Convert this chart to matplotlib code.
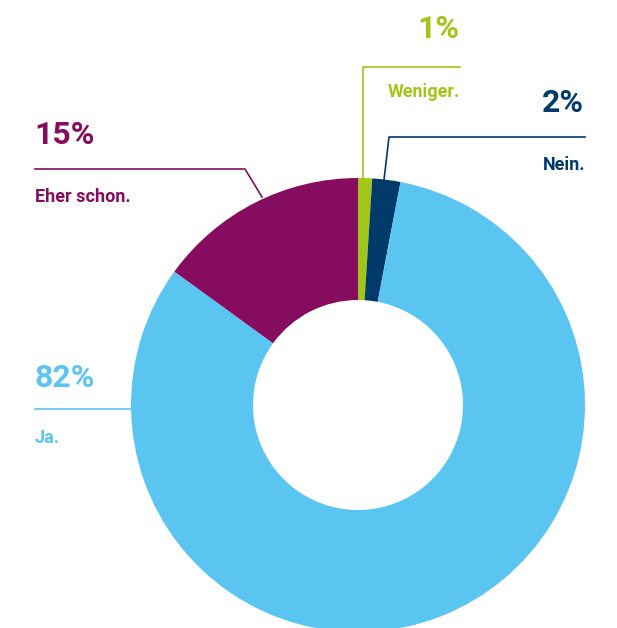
import matplotlib.pyplot as plt

# Daten
kategorien = ['Weniger.', 'Nein.', 'Ja.', 'Eher schon.']
werte = [1, 2, 82, 15]
farben = ['#a2c617', '#003a6b', '#5bc5f2', '#850c5e']

W, H = 617, 628

def y(p):
    # Pixel von oben -> Datenkoordinate
    return H - p

fig = plt.figure(figsize=(W / 100, H / 100), dpi=100)
ax = fig.add_axes([0, 0, 1, 1])

ax.pie(werte, colors=farben, startangle=90, counterclock=False,
       center=(358, y(405)), radius=227,
       wedgeprops=dict(width=122, linewidth=0))

ax.set_xlim(0, W)
ax.set_ylim(0, H)
ax.set_aspect('equal')
ax.axis('off')

fam = ['Roboto', 'DejaVu Sans']
gross = dict(fontsize=23, fontweight='bold', family=fam)
klein = dict(fontsize=13, fontweight='bold', family=fam)

# Weniger. (1%)
c = farben[0]
ax.plot([363, 363, 460], [y(178), y(67), y(67)], color=c, lw=1.2)
ax.text(459, y(29), f'{werte[0]}%', color=c, ha='right', va='center', **gross)
ax.text(460, y(92), kategorien[0], color=c, ha='right', va='center', **klein)

# Nein. (2%)
c = farben[1]
ax.plot([384, 389, 585], [y(180), y(137), y(137)], color=c, lw=1.2)
ax.text(584, y(103), f'{werte[1]}%', color=c, ha='right', va='center', **gross)
ax.text(585, y(165), kategorien[1], color=c, ha='right', va='center', **klein)

# Eher schon. (15%)
c = farben[3]
ax.plot([35, 245, 262], [y(169), y(169), y(197)], color=c, lw=1.2)
ax.text(34, y(135), f'{werte[3]}%', color=c, ha='left', va='center', **gross)
ax.text(35, y(197), kategorien[3], color=c, ha='left', va='center', **klein)

# Ja. (82%)
c = farben[2]
ax.plot([35, 132], [y(409), y(409)], color=c, lw=1.2)
ax.text(34, y(378), f'{werte[2]}%', color=c, ha='left', va='center', **gross)
ax.text(35, y(438), kategorien[2], color=c, ha='left', va='center', **klein)

fig.savefig('out.png', dpi=100)
